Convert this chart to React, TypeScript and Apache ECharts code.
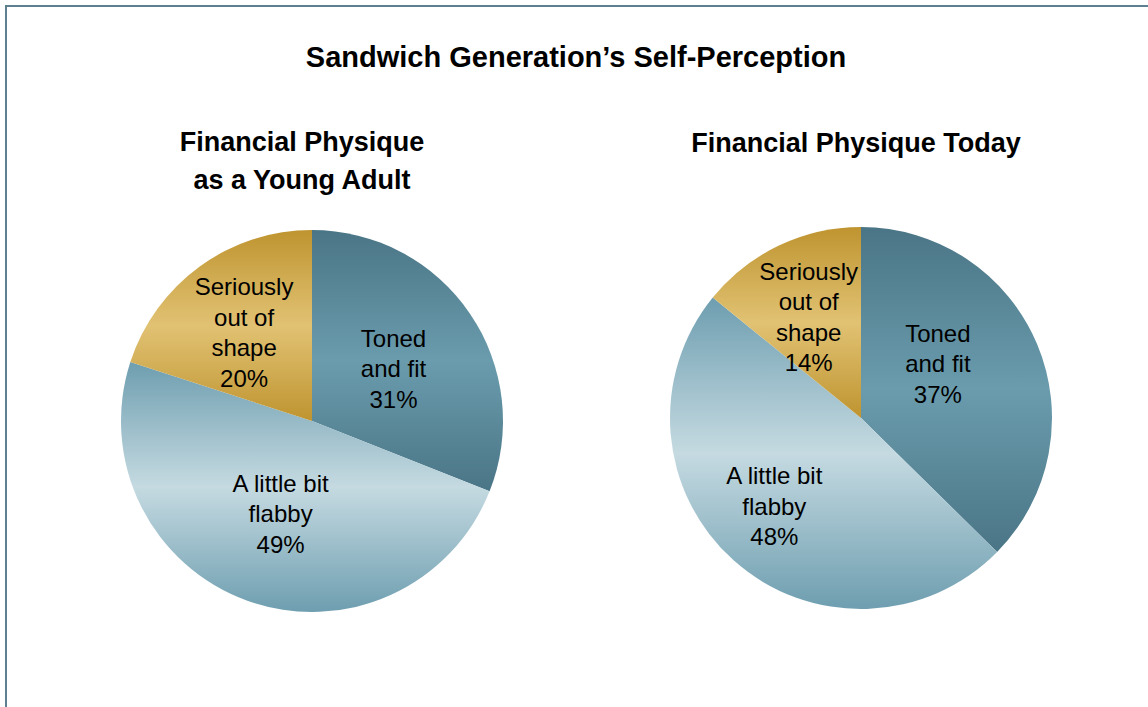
import React, { useEffect, useRef } from "react";
import * as echarts from "echarts";

const mainTitle = "Sandwich Generation\u2019s Self-Perception";
const leftTitle = "Financial Physique\nas a Young Adult";
const rightTitle = "Financial Physique Today";
const categories = ["Toned\nand fit", "A little bit\nflabby", "Seriously\nout of\nshape"];
const youngAdultValues = [31, 49, 20];
const todayValues = [37, 48, 14];

const FONT = "'Liberation Sans', Arial, sans-serif";

const grad = (edge: string, mid: string) =>
  new echarts.graphic.LinearGradient(0, 0, 0, 1, [
    { offset: 0, color: edge },
    { offset: 0.5, color: mid },
    { offset: 1, color: edge },
  ]);

const sliceColors = [
  ["#4a7586", "#6a9cad"],
  ["#6e9eb0", "#c5dae1"],
  ["#bf9430", "#e1c273"],
];

export default function App() {
  const ref = useRef<HTMLDivElement>(null);
  useEffect(() => {
    if (!ref.current) return;
    const chart = echarts.init(ref.current, null, { renderer: "svg" });
    const leftOffsets = [[0, 3], [2, 0], [-10, -9]];
    const rightOffsets = [[-14, -16], [-21, 15], [-10, -12]];
    const mkData = (vals: number[], offs: number[][]) =>
      vals.map((v, i) => ({
        name: categories[i],
        value: v,
        itemStyle: { color: grad(sliceColors[i][0], sliceColors[i][1]) },
        label: { offset: offs[i] },
      }));
    const labelStyle = {
      show: true,
      position: "inside",
      formatter: (p: any) => `${p.name}\n${p.value}%`,
      color: "#000",
      fontFamily: FONT,
      fontSize: 24,
      lineHeight: 30.5,
    };
    chart.setOption({
      animation: false,
      backgroundColor: "#fff",
      title: [
        {
          text: mainTitle,
          left: 571,
          top: 37,
          textAlign: "center",
          textStyle: { fontFamily: FONT, fontWeight: "bold", fontSize: 29, color: "#000" },
        },
        {
          text: leftTitle,
          left: 297,
          top: 118,
          textAlign: "center",
          textStyle: { fontFamily: FONT, fontWeight: "bold", fontSize: 27, lineHeight: 38, color: "#000" },
        },
        {
          text: rightTitle,
          left: 851,
          top: 124,
          textAlign: "center",
          textStyle: { fontFamily: FONT, fontWeight: "bold", fontSize: 27, color: "#000" },
        },
      ],
      graphic: [
        {
          type: "rect",
          shape: { x: 6, y: 6, width: 1160, height: 720 },
          style: { fill: "none", stroke: "#5d7f8e", lineWidth: 2 },
          silent: true,
        },
      ],
      series: [
        {
          type: "pie",
          center: [312, 421],
          radius: 191,
          startAngle: 90,
          clockwise: true,
          label: labelStyle,
          labelLine: { show: false },
          itemStyle: { borderWidth: 0 },
          emphasis: { disabled: true },
          data: mkData(youngAdultValues, leftOffsets),
        },
        {
          type: "pie",
          center: [861, 418],
          radius: 191,
          startAngle: 90,
          clockwise: true,
          label: labelStyle,
          labelLine: { show: false },
          itemStyle: { borderWidth: 0 },
          emphasis: { disabled: true },
          data: mkData(todayValues, rightOffsets),
        },
      ],
    });
    return () => chart.dispose();
  }, []);
  return (
    <div
      ref={ref}
      style={{ position: "absolute", left: 0, top: 0, width: 1148, height: 707 }}
    />
  );
}
